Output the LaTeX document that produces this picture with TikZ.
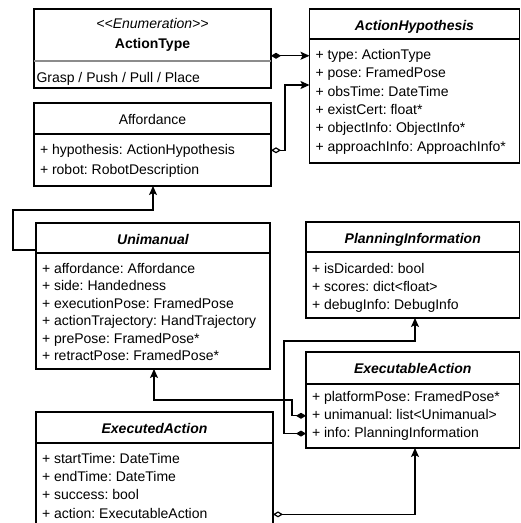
\documentclass[tikz,border=0pt]{standalone}
\usepackage{fontspec}
\setmainfont{Liberation Sans}
\usetikzlibrary{arrows.meta}
\frenchspacing
\begin{document}
\frenchspacing
\begin{tikzpicture}[x=1pt,y=-1pt,
  box/.style={draw=black,line width=1.2pt,rectangle,anchor=north west,inner sep=0pt,outer sep=0pt,fill=white},
  sep/.style={line width=1.2pt},
  attr/.style={anchor=base west,inner sep=0pt,outer sep=0pt,text height=10.5pt,text depth=3pt,font=\fontsize{14}{16}\selectfont},
  ttl/.style={anchor=base,inner sep=0pt,font=\fontsize{14}{16}\selectfont\bfseries\itshape},
  plain/.style={anchor=base,inner sep=0pt,font=\fontsize{14}{16}\selectfont},
  conn/.style={line width=1.2pt},
  comp/.style={conn,{Diamond[length=10pt,width=6pt]}-{Stealth[length=9pt,width=8pt,inset=2pt]}},
  aggr/.style={conn,{Diamond[open,length=10pt,width=6pt,fill=white]}-{Stealth[length=9pt,width=8pt,inset=2pt]}},
  assoc/.style={conn,-{Stealth[length=9pt,width=8pt,inset=2pt]}}
]
\useasboundingbox (0,0) rectangle (521,523);
\fill[white] (0,0) rectangle (521,523);

% ActionType
\node[box,minimum width=237pt,minimum height=79pt] (at) at (34,9) {};
\draw[sep,black!45] (34,61) -- (271,61);
\node[plain,font=\fontsize{14}{16}\selectfont\itshape] (atS) at (152.5,28) {{<}{<}Enumeration{>}{>}};
\node[plain,font=\fontsize{14}{16}\selectfont\bfseries] (atN) at (152.5,48) {ActionType};
\node[attr] (atA) at (36.5,82) {Grasp / Push / Pull / Place};

% Affordance
\node[box,minimum width=237pt,minimum height=83pt] (aff) at (34,103) {};
\draw[sep] (34,134) -- (271,134);
\node[plain] (affN) at (152.5,124) {Affordance};
\node[attr] (affHyp) at (40,154) {+ hypothesis: ActionHypothesis};
\node[attr] (affRob) at (40,174) {+ robot: RobotDescription};

% ActionHypothesis
\node[box,minimum width=210pt,minimum height=154pt] (ah) at (309.5,9) {};
\draw[sep] (309.5,39) -- (519.5,39);
\node[ttl] (ahN) at (414.5,30) {ActionHypothesis};
\node[attr] (ahType) at (315.5,59.5) {+ type: ActionType};
\node[attr] (ahPose) at (315.5,77.8) {+ pose: FramedPose};
\node[attr] (ahObs) at (315.5,96.1) {+ obsTime: DateTime};
\node[attr] (ahEx) at (315.5,114.4) {+ existCert: float*};
\node[attr] (ahObj) at (315.5,132.7) {+ objectInfo: ObjectInfo*};
\node[attr] (ahApp) at (315.5,151) {+ approachInfo: ApproachInfo*};

% Unimanual
\node[box,minimum width=234pt,minimum height=146pt] (uni) at (36,223) {};
\draw[sep] (36,253) -- (270,253);
\node[ttl] (uniN) at (153,244) {Unimanual};
\node[attr] (uni1) at (42,273.3) {+ affordance: Affordance};
\node[attr] (uni2) at (42,290.8) {+ side: Handedness};
\node[attr] (uni3) at (42,308.3) {+ executionPose: FramedPose};
\node[attr] (uni4) at (42,325.8) {+ actionTrajectory: HandTrajectory};
\node[attr] (uni5) at (42,343.3) {+ prePose: FramedPose*};
\node[attr] (uni6) at (42,360.8) {+ retractPose: FramedPose*};

% PlanningInformation
\node[box,minimum width=213.5pt,minimum height=96pt] (pi) at (306,222) {};
\draw[sep] (306,252) -- (519.5,252);
\node[ttl] (piN) at (412.75,243) {PlanningInformation};
\node[attr] (pi1) at (312,273.3) {+ isDicarded: bool};
\node[attr] (pi2) at (312,291.6) {+ scores: dict{<}float{>}};
\node[attr] (pi3) at (312,309.9) {+ debugInfo: DebugInfo};

% ExecutableAction
\node[box,minimum width=213.5pt,minimum height=96pt] (ea) at (306,352) {};
\draw[sep] (306,384) -- (519.5,384);
\node[ttl] (eaN) at (412.75,373) {ExecutableAction};
\node[attr] (eaPl) at (312,401.7) {+ platformPose: FramedPose*};
\node[attr] (eaUni) at (312,419.5) {+ unimanual: list{<}Unimanual{>}};
\node[attr] (eaInfo) at (312,437.3) {+ info: PlanningInformation};

% ExecutedAction
\node[box,minimum width=237pt,minimum height=118pt] (ed) at (36,412) {};
\draw[sep] (36,443) -- (273,443);
\node[ttl] (edN) at (154.5,433) {ExecutedAction};
\node[attr] (ed1) at (42,463.5) {+ startTime: DateTime};
\node[attr] (ed2) at (42,481.7) {+ endTime: DateTime};
\node[attr] (ed3) at (42,499.9) {+ success: bool};
\node[attr] (edAct) at (42,518.1) {+ action: ExecutableAction};

% bend coordinates
\coordinate (k2) at (285,85);
\coordinate (k3a) at (13,250);
\coordinate (k3b) at (153,210);
\coordinate (k4a) at (292,400);
\coordinate (k4b) at (154,400);
\coordinate (k5a) at (284,341);
\coordinate (k5b) at (415,341);
\coordinate (k6) at (415,500);

% connectors
\draw[comp] (at.east |- ahType.west) -- (ah.west |- ahType.west);
\draw[aggr] (aff.east |- affHyp.west) -| (k2) -- (ah.west |- k2);
\draw[assoc] (uni.west |- k3a) -- (k3a) |- (k3b) -- (aff.south -| k3b);
\draw[comp] (ea.west |- eaUni.west) -| (k4a) -- (k4b) -- (uni.south -| k4b);
\draw[comp] (ea.west |- eaInfo.west) -| (k5a) -- (k5b) -- (pi.south -| k5b);
\draw[aggr] (ed.east |- edAct.west) -| (ea.south -| k6);
\end{tikzpicture}
\end{document}
